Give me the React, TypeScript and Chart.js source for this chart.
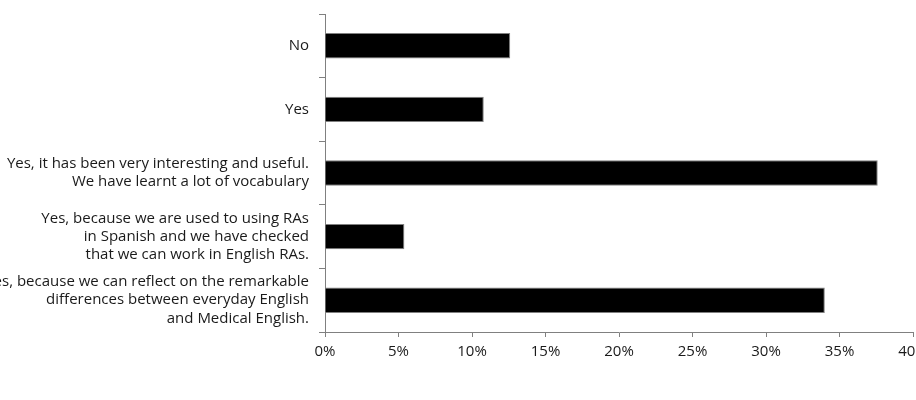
import React, { useEffect, useRef } from "react";
import { Chart, registerables } from "chart.js";

Chart.register(...registerables);

// ---- data ----
const categories: (string | string[])[] = [
  "No",
  "Yes",
  ["Yes, it has been very interesting and useful.", "We have learnt a lot of vocabulary"],
  ["Yes, because we are used to using RAs", "in Spanish and we have checked", "that we can work in English RAs."],
  ["Yes, because we can reflect on the remarkable", "differences between everyday English", "and Medical English."],
];
const percentages = [12.6, 10.8, 37.6, 5.4, 34.0];
const xMin = 0;
const xMax = 40;
const xStep = 5;
const tickSuffix = "%";

const FONT = "'Open Sans', 'Noto Sans', sans-serif";
const GREY = "#808080";

export default function App() {
  const ref = useRef<HTMLCanvasElement | null>(null);

  useEffect(() => {
    document.body.style.margin = "0";
    const canvas = ref.current;
    if (!canvas) return;
    const chart = new Chart(canvas, {
      type: "bar",
      data: {
        labels: categories,
        datasets: [
          {
            data: percentages,
            backgroundColor: "#000000",
            borderColor: GREY,
            borderWidth: 1,
            borderSkipped: "start",
            categoryPercentage: 1,
            barPercentage: 0.4,
          },
        ],
      },
      options: {
        indexAxis: "y",
        responsive: false,
        animation: false,
        events: [],
        layout: { padding: { top: 14, right: 3, bottom: 0, left: 0 } },
        plugins: {
          legend: { display: false },
          tooltip: { enabled: false },
        },
        scales: {
          x: {
            type: "linear",
            min: xMin,
            max: xMax,
            ticks: {
              stepSize: xStep,
              color: "#1a1a1a",
              font: { family: FONT, size: 15 },
              padding: 6,
              maxRotation: 0,
              autoSkip: false,
              callback: (v: any) => `${v}${tickSuffix}`,
            },
            grid: {
              drawOnChartArea: false,
              drawTicks: true,
              tickLength: 5,
              color: GREY,
            },
            border: { display: true, color: GREY, width: 1 },
            afterFit: (s: any) => {
              s.height = 68;
              s.paddingLeft = 0;
              s.paddingRight = 0;
            },
          },
          y: {
            type: "category",
            offset: true,
            ticks: {
              color: "#1a1a1a",
              font: { family: FONT, size: 15, lineHeight: 1.22 },
              padding: 10,
              autoSkip: false,
            },
            grid: {
              offset: true,
              drawOnChartArea: false,
              drawTicks: true,
              tickLength: 6,
              color: GREY,
            },
            border: { display: true, color: GREY, width: 1 },
            afterFit: (s: any) => {
              s.width = 325;
              s.paddingTop = 0;
              s.paddingBottom = 0;
            },
          },
        },
      },
    } as any);
    return () => chart.destroy();
  }, []);

  return (
    <div style={{ width: 916, height: 400 }}>
      <canvas ref={ref} width={916} height={400} style={{ display: "block" }} />
    </div>
  );
}
